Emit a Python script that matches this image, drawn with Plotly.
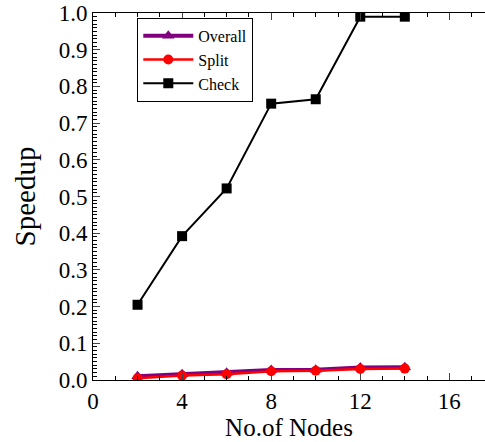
import plotly.graph_objects as go

nodes = [2, 4, 6, 8, 10, 12, 14]
overall = [0.010, 0.016, 0.020, 0.027, 0.028, 0.034, 0.035]
split = [0.005, 0.012, 0.016, 0.024, 0.025, 0.030, 0.031]
check = [0.205, 0.392, 0.522, 0.753, 0.765, 0.990, 0.990]

font = "Liberation Serif, Times New Roman, serif"

fig = go.Figure()
fig.add_trace(go.Scatter(x=nodes, y=overall, name="Overall", mode="lines+markers",
                         line=dict(color="#800080", width=4),
                         marker=dict(symbol="triangle-up", size=11, color="#800080")))
fig.add_trace(go.Scatter(x=nodes, y=split, name="Split", mode="lines+markers",
                         line=dict(color="#ff0000", width=2.5),
                         marker=dict(symbol="circle", size=10, color="#ff0000")))
fig.add_trace(go.Scatter(x=nodes, y=check, name="Check", mode="lines+markers",
                         line=dict(color="#000000", width=2),
                         marker=dict(symbol="square", size=10, color="#000000")))

fig.update_layout(
    width=485, height=442,
    margin=dict(l=93, r=0, t=13, b=62),
    paper_bgcolor="white", plot_bgcolor="white",
    font=dict(family=font, color="black"),
    showlegend=True,
    legend=dict(x=0.113, y=0.987, xanchor="left", yanchor="top",
                bordercolor="black", borderwidth=1, bgcolor="white",
                font=dict(family=font, size=16), tracegroupgap=0,
                itemwidth=50),
    xaxis=dict(range=[0, 17.6], tickvals=[0, 4, 8, 12, 16], ticks="inside", ticklen=7,
               showline=True, linecolor="black", linewidth=1, mirror="ticks",
               showgrid=False, zeroline=False,
               tickfont=dict(family=font, size=23),
               title=dict(text="No.of Nodes", font=dict(family=font, size=25), standoff=4),
               minor=dict(dtick=1, ticks="inside", ticklen=4, tickcolor="black")),
    yaxis=dict(range=[0, 1.0], dtick=0.1, tickformat=".1f", ticks="inside", ticklen=7,
               showline=True, linecolor="black", linewidth=1,
               showgrid=False, zeroline=False,
               tickfont=dict(family=font, size=23),
               title=dict(text="Speedup", font=dict(family=font, size=29), standoff=14),
               minor=dict(dtick=0.01, ticks="inside", ticklen=4, tickcolor="black")),
)

fig.write_html("out.html")
